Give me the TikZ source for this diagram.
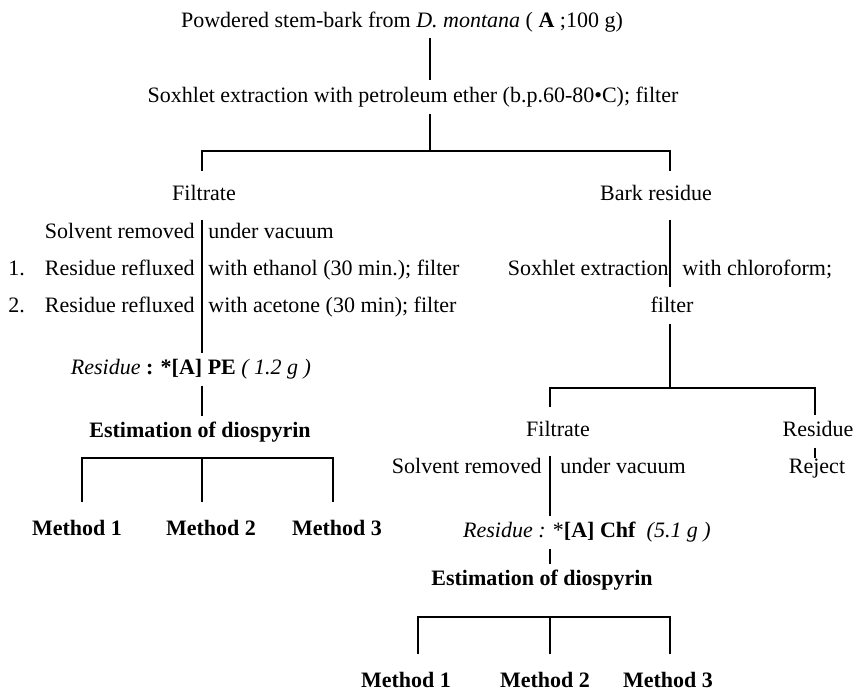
\documentclass[tikz,border=0pt]{standalone}
\usepackage{fontspec}
\setmainfont{Liberation Serif}
\usepackage{tikz}

\begin{document}
\begin{tikzpicture}[x=0.5pt,y=-0.5pt]
	\tikzstyle{tnode}=[font=\fontsize{11}{13}\selectfont, inner sep=0pt, outer ysep=3pt, text height=8pt, text depth=2.5pt];
	\tikzstyle{fnode}=[tnode, outer ysep=7pt];
	\tikzstyle{cnode}=[tnode, outer ysep=0pt];
	\tikzstyle{lnode}=[tnode, anchor=east];
	\tikzstyle{rnode}=[tnode, anchor=west];
	\tikzstyle{bnode}=[tnode, font=\fontsize{11}{13}\selectfont\bfseries];
	\tikzstyle{mnode}=[bnode, outer ysep=9pt];
	\tikzstyle{bline}=[line width=0.8pt];

	\useasboundingbox (0,0) rectangle (855,690);

	% extraction with petroleum ether
	\node[tnode] (top) at (402,22) {Powdered stem-bark from \textit{D. montana} ( \textbf{A} ;100 g)};
	\node[tnode] (sox) at (413,97) {Soxhlet extraction with petroleum ether (b.p.60-80•C); filter};

	\coordinate (kT) at (430,151);
	\coordinate (kTa) at (202,151);
	\coordinate (kTb) at (670,151);

	% left: filtrate
	\node[fnode] (filL) at (204,195) {Filtrate};
	\node[lnode] (sol1) at (195,233) {Solvent removed};
	\node[rnode] (vac1) at (208,233) {under vacuum};
	\node[rnode] (n1) at (8,270) {1.};
	\node[lnode] (ref1) at (195,270) {Residue refluxed};
	\node[rnode] (eth) at (208,270) {with ethanol (30 min.); filter};
	\node[rnode] (n2) at (8,307) {2.};
	\node[lnode] (ref2) at (195,307) {Residue refluxed};
	\node[rnode] (ace) at (208,307) {with acetone (30 min); filter};
	\node[tnode] (resL) at (191,369) {\textit{Residue} \textbf{: *[A] PE} \textit{( 1.2 g )}};
	\node[bnode] (estL) at (200,432) {Estimation of diospyrin};

	\coordinate (kLa) at (82,458);
	\coordinate (kLm) at (202,458);
	\coordinate (kLb) at (333,458);

	\node[mnode] (m1L) at (77,530) {Method 1};
	\node[mnode] (m2L) at (211,530) {Method 2};
	\node[mnode] (m3L) at (337,530) {Method 3};

	% right: bark residue
	\node[fnode] (bark) at (656,195) {Bark residue};
	\node[lnode] (soxR) at (669,270) {Soxhlet extraction};
	\node[rnode] (chl) at (682,270) {with chloroform;};
	\node[tnode] (filt) at (672,307) {filter};

	\coordinate (kRm) at (670,388);
	\coordinate (kRa) at (550,388);
	\coordinate (kRb) at (815,388);

	\node[fnode] (filR) at (558,431) {Filtrate};
	\node[tnode] (resRR) at (818,431) {Residue};
	\node[cnode] (rej) at (817,468) {Reject};
	\node[lnode] (sol2) at (542,468) {Solvent removed};
	\node[rnode] (vac2) at (560,468) {under vacuum};
	\node[tnode] (resR) at (587,532) {\textit{Residue :} *\textbf{[A] Chf}\ \ \textit{(5.1 g )}};
	\node[bnode] (estR) at (542,580) {Estimation of diospyrin};

	\coordinate (kRc) at (418,617);
	\coordinate (kRn) at (550,617);
	\coordinate (kRd) at (670,617);

	\node[mnode] (m1R) at (406,682) {Method 1};
	\node[mnode] (m2R) at (545,682) {Method 2};
	\node[mnode] (m3R) at (668,682) {Method 3};

	% connectors
	\draw[bline] (top.south -| kT) -- (sox.north -| kT);
	\draw[bline] (sox.south -| kT) -- (kT);
	\draw[bline] (filL.north -| kTa) |- (kTb) -- (bark.north -| kTb);

	\draw[bline] (filL.south -| kLm) -- (resL.north -| kLm);
	\draw[bline] (resL.south -| kLm) -- (estL.north -| kLm);
	\draw[bline] (m1L.north -| kLa) |- (kLb) -- (m3L.north -| kLb);
	\draw[bline] (kLm) -- (m2L.north -| kLm);

	\draw[bline] (bark.south -| kRm) -- (soxR.south east -| kRm);
	\draw[bline] (filt.south -| kRm) -- (kRm);
	\draw[bline] (filR.north -| kRa) |- (kRb) -- (resRR.north -| kRb);
	\draw[bline] (resRR.south -| kRb) -- (rej.north -| kRb);

	\draw[bline] (filR.south -| kRn) -- (resR.north -| kRn);
	\draw[bline] (resR.south -| kRn) -- (estR.north -| kRn);
	\draw[bline] (m1R.north -| kRc) |- (kRd) -- (m3R.north -| kRd);
	\draw[bline] (kRn) -- (m2R.north -| kRn);

\end{tikzpicture}
\end{document}
